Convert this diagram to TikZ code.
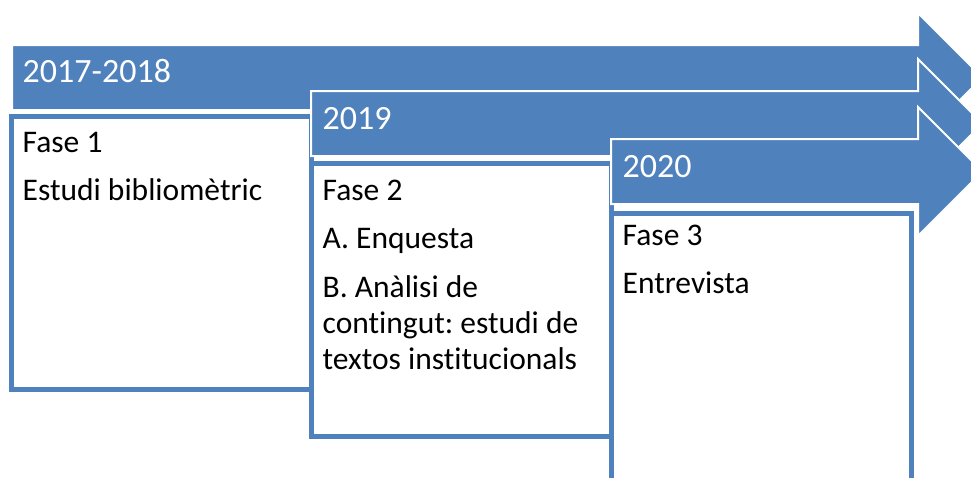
\documentclass[tikz,border=0pt]{standalone}
\usepackage{fontspec}
\setmainfont{Carlito}[Ligatures=NoCommon]
\usepackage{tikz}
\usetikzlibrary{positioning}
\definecolor{bandblue}{RGB}{79,129,189}
\frenchspacing

\begin{document}
\begin{tikzpicture}[
  x=1pt, y=-1pt,
  band/.style={fill=bandblue, draw=white, line width=2pt, line join=miter},
  year/.style={anchor=base west, inner sep=0pt, text=white, font=\fontsize{34}{40}\selectfont},
  phase/.style={draw=bandblue, fill=white, line width=5pt, outer sep=0pt, anchor=north west,
    minimum width=300pt, minimum height=273pt},
  txt/.style={anchor=base west, inner sep=0pt, align=left, font=\fontsize{31.5}{36}\selectfont}
]
\useasboundingbox (0,0) rectangle (971,477);
\clip (0,0) rectangle (971,477);

% 2017-2018
\draw[band] (12,45) -- (918,45) -- (918,13) -- (982.5,77.5) -- (918,142) -- (918,110) -- (12,110) -- cycle;
\node[year] (y1) at (22.5,82) {2017-2018};
\node[phase] (p1) at (11,116) {};
\node[txt] (f1) at (22.5,152) {Fase 1};
\node[txt] (d1) at (22.5,200) {Estudi bibliomètric};

% 2019
\draw[band] (311,91) -- (918,91) -- (918,59) -- (982.5,123.5) -- (918,188) -- (918,156) -- (311,156) -- cycle;
\node[year] (y2) at (322.5,129) {2019};
\node[phase] (p2) at (311,163) {};
\node[txt] (f2) at (322.5,200) {Fase 2};
\node[txt] (d2a) at (322.5,248) {A. Enquesta};
\node[txt] (d2b) at (322.5,297) {B. Anàlisi de};
\node[txt] (d2c) at (322.5,333) {contingut: estudi de};
\node[txt] (d2d) at (322.5,369) {textos institucionals};

% 2020
\draw[band] (611,139) -- (918,139) -- (918,107) -- (982.5,171.5) -- (918,236) -- (918,204) -- (611,204) -- cycle;
\node[year] (y3) at (622.5,177) {2020};
\node[phase] (p3) at (611,213) {};
\node[txt] (f3) at (622.5,245) {Fase 3};
\node[txt] (d3) at (622.5,293) {Entrevista};
\end{tikzpicture}
\end{document}
